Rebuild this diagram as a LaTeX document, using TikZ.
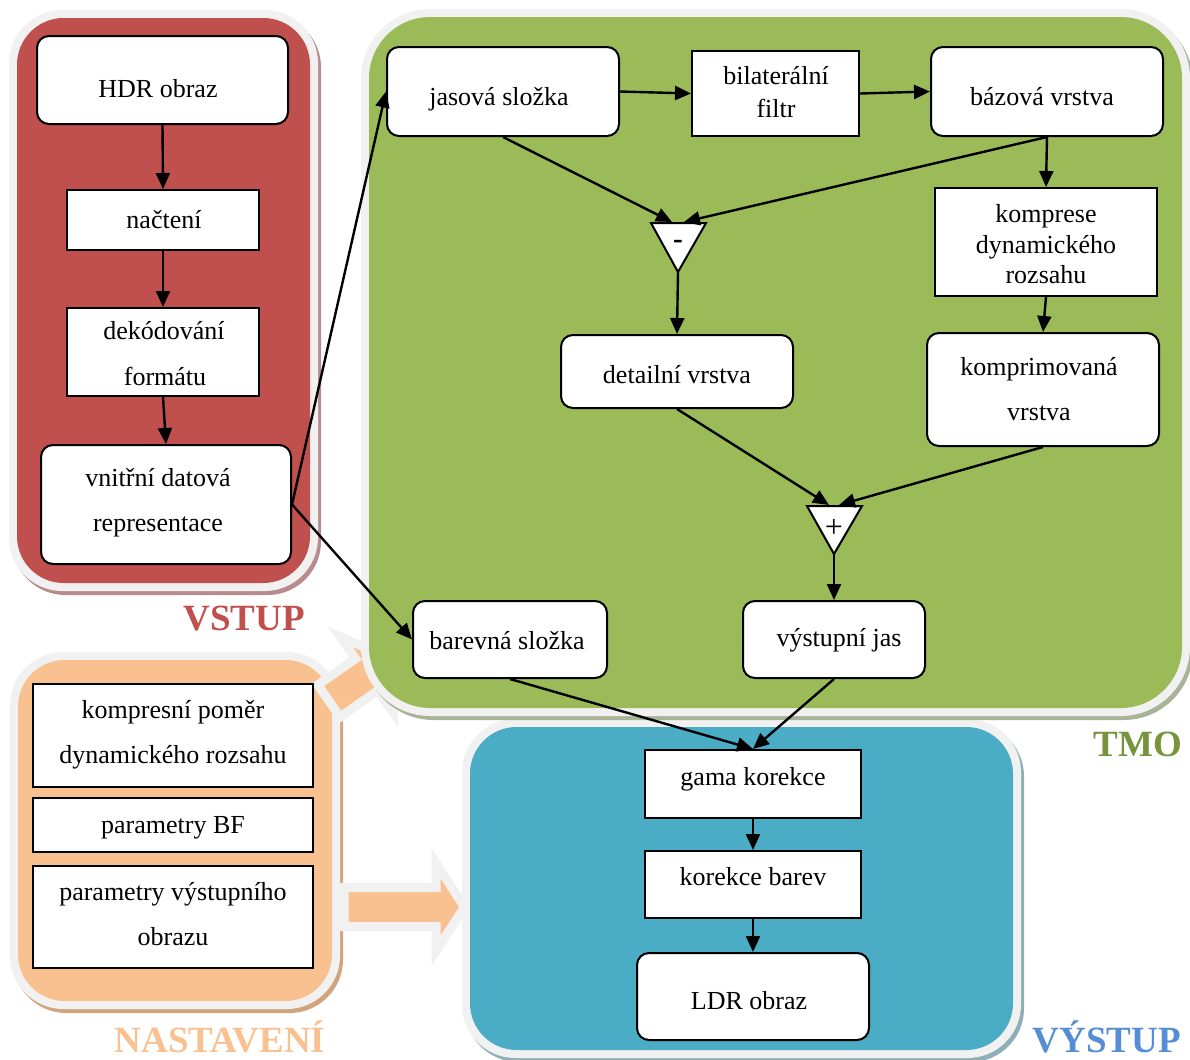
\documentclass[tikz,border=0pt]{standalone}
\usepackage{fontspec}
\setmainfont{Liberation Serif}
\usetikzlibrary{arrows.meta,fit}

\definecolor{redfill}{HTML}{C0504D}
\definecolor{redshadow}{HTML}{B88C8C}
\definecolor{greenfill}{HTML}{9BBB59}
\definecolor{greenshadow}{HTML}{A9B397}
\definecolor{greentext}{HTML}{77933C}
\definecolor{bluefill}{HTML}{4BACC6}
\definecolor{blueshadow}{HTML}{8FAFB8}
\definecolor{bluetext}{HTML}{558ED5}
\definecolor{orangefill}{HTML}{F9C18F}
\definecolor{orangeshadow}{HTML}{D2A47E}
\definecolor{panelrim}{HTML}{F1F1F1}

% group panel: shadow, light rim, coloured body
% #1,#2 top-left  #3,#4 bottom-right  #5 fill  #6 shadow  #7 outer radius  #8 inner radius
\newcommand\grouppanel[8]{%
  \fill[#6, rounded corners=#7] ({#1+3},{#2+4}) rectangle ({#3+3},{#4+4});
  \fill[panelrim, rounded corners=#7] (#1,#2) rectangle (#3,#4);
  \fill[#5, rounded corners=#8] ({#1+8},{#2+8}) rectangle ({#3-8},{#4-8});}

% wide orange block arrow pointing along local +x
% #1 length of shaft, #2 half width of shaft, #3 half width of head, #4 length of head
\newcommand\blockarrowpath[4]{%
  (0,-#2) -- (#1,-#2) -- (#1,-#3) -- ({#1+#4},0) -- (#1,#3) -- (#1,#2) -- (0,#2) -- cycle}

\tikzset{
  box/.style={draw=black, line width=1.5pt, fill=white, inner sep=0pt},
  rbox/.style={box, rounded corners=9pt},
  txt/.style={font=\fontsize{19.5}{24}\selectfont, anchor=base, inner sep=0pt},
  conn/.style={line width=1.8pt, -{Triangle[length=12pt,width=10.5pt]}},
  sumnode/.style={draw=black, line width=1.5pt, fill=white, line join=miter},
  grouplabel/.style={font=\fontsize{27.75}{30}\selectfont\bfseries, anchor=base,
    inner sep=0pt, text depth=0pt},
  arrowshadow/.style={fill=orangeshadow},
  arrowbody/.style={fill=orangefill, draw=panelrim, line width=6.75pt, line join=miter, miter limit=10},
}

\begin{document}
\begin{tikzpicture}[x=0.75pt,y=-0.75pt]
\useasboundingbox (0,0) rectangle (1190,1060);

% ---------- group backgrounds ----------
\grouppanel{10}{652}{340}{1009}{orangefill}{orangeshadow}{40pt}{35pt}
\grouppanel{9}{10}{318}{591}{redfill}{redshadow}{40pt}{35pt}
\grouppanel{462}{719}{1021}{1058}{bluefill}{blueshadow}{40pt}{35pt}

% settings feed into TMO and into the output stage
\begin{scope}[shift={(331,704)}, rotate=35]
  \fill[arrowshadow] \blockarrowpath{46}{19.5}{46}{28.5};
\end{scope}
\begin{scope}[shift={(329,701)}, rotate=35]
  \filldraw[arrowbody] \blockarrowpath{46}{19.5}{46}{28.5};
\end{scope}
\begin{scope}[shift={(346,910)}]
  \fill[arrowshadow] \blockarrowpath{92}{19.5}{44}{28.5};
\end{scope}
\begin{scope}[shift={(344,907)}]
  \filldraw[arrowbody] \blockarrowpath{92}{19.5}{44}{28.5};
\end{scope}

\grouppanel{361}{9}{1190}{716}{greenfill}{greenshadow}{52pt}{46pt}

% ---------- VSTUP ----------
\node[rbox, fit={(37,36) (288,124)}] (hdr) {};
\node[txt] (hdr-t) at (158,97) {HDR obraz};
\node[box, fit={(67,190) (259,250)}] (nacteni) {};
\node[txt] (nacteni-t) at (164,228) {načtení};
\node[box, fit={(67,308) (259,396)}] (dekod) {};
\node[txt] (dekod-t1) at (164,339) {dekódování};
\node[txt] (dekod-t2) at (165,385) {formátu};
\node[rbox, fit={(41,445) (291,564)}] (vnitrni) {};
\node[txt] (vnitrni-t1) at (158,486) {vnitřní datová};
\node[txt] (vnitrni-t2) at (158,531) {representace};

% ---------- TMO ----------
\node[rbox, fit={(387,47) (619,136)}] (jasova) {};
\node[txt] (jasova-t) at (499,105) {jasová složka};
\node[box, fit={(692,51) (859,136)}] (bilat) {};
\node[txt] (bilat-t1) at (776,84) {bilaterální};
\node[txt] (bilat-t2) at (776,117) {filtr};
\node[rbox, fit={(931,47) (1163,136)}] (bazova) {};
\node[txt] (bazova-t) at (1042,105) {bázová vrstva};
\node[box, fit={(935,188) (1157,296)}] (komprese) {};
\node[txt] (komprese-t1) at (1046,222) {komprese};
\node[txt] (komprese-t2) at (1046,253) {dynamického};
\node[txt] (komprese-t3) at (1046,283) {rozsahu};
\node[rbox, fit={(561,335) (793,408)}] (detail) {};
\node[txt] (detail-t) at (677,383) {detailní vrstva};
\node[rbox, fit={(927,333) (1159,446)}] (kompr) {};
\node[txt] (kompr-t1) at (1039,375) {komprimovaná};
\node[txt] (kompr-t2) at (1039,420) {vrstva};
\node[rbox, fit={(413,601) (607,678)}] (barevna) {};
\node[txt] (barevna-t) at (507,649) {barevná složka};
\node[rbox, fit={(743,601) (925,678)}] (vystjas) {};
\node[txt] (vystjas-t) at (839,646) {výstupní jas};

% difference and sum blocks
\draw[sumnode] (651,223) -- (706,223) -- (678,272) -- cycle;
\node[font=\fontsize{22}{22}\selectfont\bfseries] (minus) at (678,244) {-};
\coordinate (minusL) at (672,222);
\coordinate (minusR) at (684,222);
\coordinate (minusout) at (678,272);

\draw[sumnode] (807,506) -- (862,506) -- (834,554) -- cycle;
\node[font=\fontsize{24}{24}\selectfont] (plus) at (834,528) {+};
\coordinate (plusL) at (829,505);
\coordinate (plusR) at (839,505);
\coordinate (plusout) at (834,554);

% ---------- VÝSTUP ----------
\node[box, fit={(645,750) (861,818)}] (gama) {};
\node[txt] (gama-t) at (753,785) {gama korekce};
\node[box, fit={(645,851) (861,918)}] (korekce) {};
\node[txt] (korekce-t) at (753,885) {korekce barev};
\node[rbox, fit={(637,953) (869,1040)}] (ldr) {};
\node[txt] (ldr-t) at (749,1009) {LDR obraz};

% ---------- NASTAVENÍ ----------
\node[box, fit={(33,684) (313,787)}] (pomer) {};
\node[txt] (pomer-t1) at (173,718) {kompresní poměr};
\node[txt] (pomer-t2) at (173,763) {dynamického rozsahu};
\node[box, fit={(33,798) (313,852)}] (parbf) {};
\node[txt] (parbf-t) at (173,833) {parametry BF};
\node[box, fit={(33,866) (313,968)}] (parvyst) {};
\node[txt] (parvyst-t1) at (173,900) {parametry výstupního};
\node[txt] (parvyst-t2) at (173,945) {obrazu};

% ---------- connectors ----------
\draw[conn] (hdr.south) -- (nacteni.north);
\draw[conn] (nacteni.south) -- (dekod.north);
\draw[conn] (dekod.south) -- (vnitrni.north);
\draw[conn] (vnitrni.east) -- (jasova.west);
\draw[conn] (vnitrni.east) -- (barevna.west);

\draw[conn] (jasova.east) -- (bilat.west);
\draw[conn] (bilat.east) -- (bazova.west);
\draw[conn] (jasova.south) -- (minusL);
\draw[conn] (bazova.south) -- (minusR);
\draw[conn] (bazova.south) -- (komprese.north);
\draw[conn] (minusout) -- (detail.north);
\draw[conn] (komprese.south) -- (kompr.north);
\draw[conn] (detail.south) -- (plusL);
\draw[conn] (kompr.south) -- (plusR);
\draw[conn] (plusout) -- (vystjas.north);
\draw[conn] (barevna.south) -- (gama.north);
\draw[conn] (vystjas.south) -- (gama.north);

\draw[conn] (gama.south) -- (korekce.north);
\draw[conn] (korekce.south) -- (ldr.north);

% ---------- group titles ----------
\node[grouplabel, text=redfill] (lblvstup) at (244,630) {VSTUP};
\node[grouplabel, text=greentext] (lbltmo) at (1138,756) {TMO};
\node[grouplabel, text=orangefill] (lblnast) at (220,1052) {NASTAVENÍ};
\node[grouplabel, text=bluetext] (lblvystup) at (1107,1052) {VÝSTUP};
\end{tikzpicture}
\end{document}
